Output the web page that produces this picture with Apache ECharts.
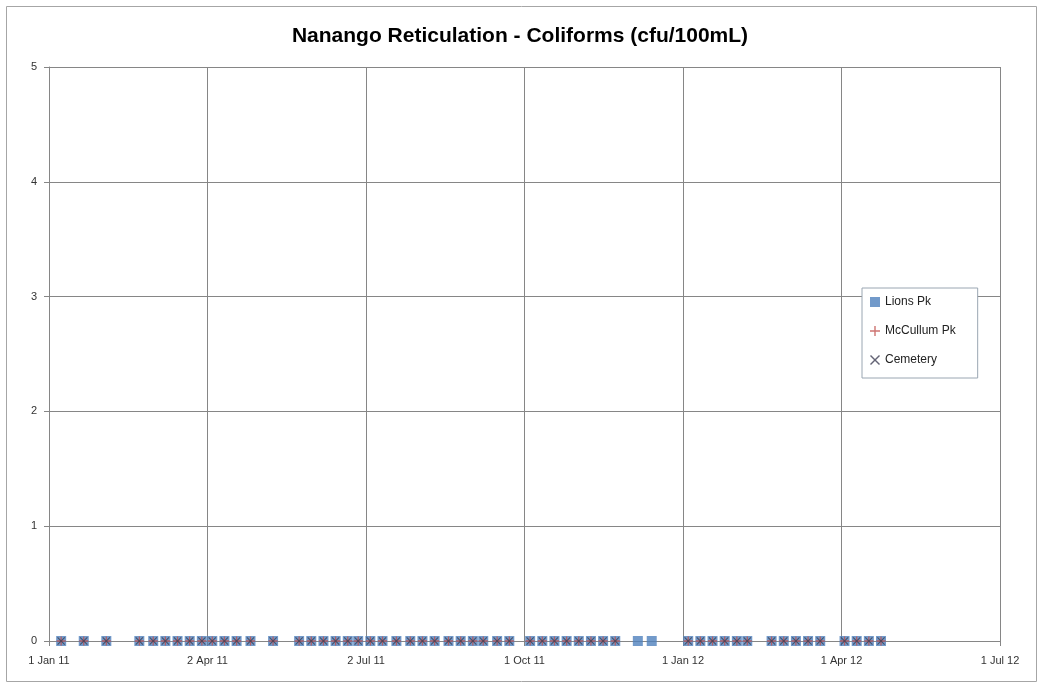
<!DOCTYPE html>
<html>
<head>
<meta charset="utf-8">
<script src="https://cdn.jsdelivr.net/npm/echarts@6/dist/echarts.min.js"></script>
<style>
html,body{margin:0;padding:0;background:#fff;}
#chart{width:1040px;height:684px;}
</style>
</head>
<body>
<div id="chart"></div>
<script>
// Sample dates (day-level), value arrays per site
const sampleDates = [
  '2011-01-08','2011-01-21','2011-02-03','2011-02-22',
  '2011-03-02','2011-03-09','2011-03-16','2011-03-23','2011-03-30','2011-04-05','2011-04-12','2011-04-19','2011-04-27','2011-05-10',
  '2011-05-25','2011-06-01','2011-06-08','2011-06-15','2011-06-22','2011-06-28','2011-07-05','2011-07-12','2011-07-20','2011-07-28',
  '2011-08-04','2011-08-11','2011-08-19','2011-08-26','2011-09-02','2011-09-08','2011-09-16','2011-09-23',
  '2011-10-05','2011-10-12','2011-10-19','2011-10-26','2011-11-02','2011-11-09','2011-11-16','2011-11-23',
  '2011-12-06','2011-12-14',
  '2012-01-04','2012-01-11','2012-01-18','2012-01-25','2012-02-01','2012-02-07',
  '2012-02-21','2012-02-28','2012-03-06','2012-03-13','2012-03-20',
  '2012-04-03','2012-04-10','2012-04-17','2012-04-24'
];
const lionsPk    = [0,0,0,0, 0,0,0,0,0,0,0,0,0,0, 0,0,0,0,0,0,0,0,0,0, 0,0,0,0,0,0,0,0, 0,0,0,0,0,0,0,0, 0,0, 0,0,0,0,0,0, 0,0,0,0,0, 0,0,0,0];
const mccullumPk = [0,0,0,0, 0,0,0,0,0,0,0,0,0,0, 0,0,0,0,0,0,0,0,0,0, 0,0,0,0,0,0,0,0, 0,0,0,0,0,0,0,0, null,null, 0,0,0,0,0,0, 0,0,0,0,0, 0,0,0,0];
const cemetery   = [0,0,0,0, 0,0,0,0,0,0,0,0,0,0, 0,0,0,0,0,0,0,0,0,0, 0,0,0,0,0,0,0,0, 0,0,0,0,0,0,0,0, null,null, 0,0,0,0,0,0, 0,0,0,0,0, 0,0,0,0];
const seriesNames = ['Lions Pk','McCullum Pk','Cemetery'];
const yTicks = [0,1,2,3,4,5];
// x axis: days since 1 Jan 2011, major unit 91.25 days (1 Jan 11 ... 1 Jul 12)
const xStartDate = '2011-01-01';
const xSpanDays = 547.5;
const xStepDays = 91.25;

const DAY = 86400000;
const base = Date.parse(xStartDate + 'T00:00:00Z');
const toDay = s => (Date.parse(s + 'T00:00:00Z') - base) / DAY;
const months = ['Jan','Feb','Mar','Apr','May','Jun','Jul','Aug','Sep','Oct','Nov','Dec'];
const fmtDay = v => {
  const d = new Date(base + Math.floor(v + 1e-6) * DAY);
  return d.getUTCDate() + ' ' + months[d.getUTCMonth()] + ' ' + String(d.getUTCFullYear()).slice(2);
};
const pairs = vals => sampleDates.map((s, i) => vals[i] == null ? null : [toDay(s), vals[i]]).filter(p => p);

const plusPath = 'path://M4.3,0 H5.7 V4.3 H10 V5.7 H5.7 V10 H4.3 V5.7 H0 V4.3 H4.3 Z';
const xPath = 'path://M0,1 L1,0 L5,4 L9,0 L10,1 L6,5 L10,9 L9,10 L5,6 L1,10 L0,9 L4,5 Z';

const chart = echarts.init(document.getElementById('chart'), null, {renderer: 'canvas'});
const font = 'Liberation Sans, Arial, sans-serif';
chart.setOption({
  animation: false,
  backgroundColor: '#fff',
  textStyle: {fontFamily: font},
  title: {
    text: 'Nanango Reticulation - Coliforms (cfu/100mL)',
    left: 'center', top: 21,
    textStyle: {fontSize: 21, fontWeight: 'bold', color: '#000', fontFamily: font}
  },
  graphic: [{
    type: 'rect', left: 4, top: 4, z: -1,
    shape: {width: 1030, height: 675},
    style: {fill: 'none', stroke: '#a6a6a6', lineWidth: 1}
  }],
  legend: {
    orient: 'vertical', left: 862, top: 288,
    padding: [8, 22, 12, 8],
    itemGap: 17, itemWidth: 10, itemHeight: 10,
    backgroundColor: '#fff', borderColor: '#9aa6b2', borderWidth: 1,
    textStyle: {fontSize: 12, color: '#222', fontFamily: font},
    data: seriesNames
  },
  grid: {left: 49, right: 40, top: 67, bottom: 43, containLabel: false},
  xAxis: {
    type: 'value', min: 0, max: xSpanDays, interval: xStepDays,
    axisLine: {show: true, lineStyle: {color: '#868686'}},
    axisTick: {show: true, length: 5, inside: false, lineStyle: {color: '#868686'}},
    axisLabel: {formatter: v => fmtDay(v), fontSize: 11, color: '#333', margin: 14, fontFamily: font},
    splitLine: {show: true, lineStyle: {color: '#868686', width: 1}}
  },
  yAxis: {
    type: 'value', min: yTicks[0], max: yTicks[yTicks.length - 1], interval: 1,
    axisLine: {show: true, lineStyle: {color: '#868686'}},
    axisTick: {show: true, length: 5, lineStyle: {color: '#868686'}},
    axisLabel: {fontSize: 11, color: '#333', margin: 12, fontFamily: font},
    splitLine: {show: true, lineStyle: {color: '#868686', width: 1}}
  },
  series: [
    {name: seriesNames[0], type: 'scatter', data: pairs(lionsPk), symbol: 'rect', symbolSize: 10,
     itemStyle: {color: '#4F81BD'}, z: 2},
    {name: seriesNames[1], type: 'scatter', data: pairs(mccullumPk), symbol: plusPath, symbolSize: 9,
     itemStyle: {color: '#C0504D'}, z: 3},
    {name: seriesNames[2], type: 'scatter', data: pairs(cemetery), symbol: xPath, symbolSize: 8,
     itemStyle: {color: '#3d3d52'}, z: 4}
  ]
});
</script>
</body>
</html>
